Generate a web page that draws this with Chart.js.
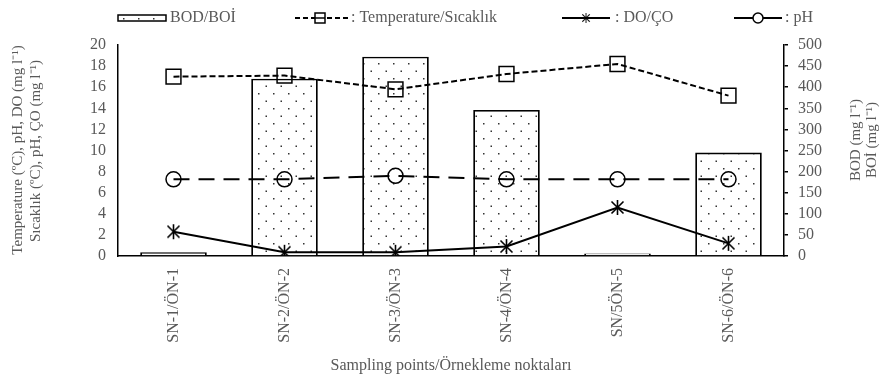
<!DOCTYPE html>
<html>
<head>
<meta charset="utf-8">
<script src="https://cdn.jsdelivr.net/npm/chart.js@4.4.1/dist/chart.umd.min.js"></script>
<style>
  html, body { margin: 0; padding: 0; background: #fff; }
  #wrap { width: 883px; height: 375px; }
</style>
</head>
<body>
<div id="wrap"><canvas id="chart"></canvas></div>
<script>
// values
var samplingPoints = ['SN-1/ÖN-1', 'SN-2/ÖN-2', 'SN-3/ÖN-3', 'SN-4/ÖN-4', 'SN/5ÖN-5', 'SN-6/ÖN-6'];
var bodValues = [9, 420, 472, 346, 6, 245];            // mg l-1, right axis
var temperatureValues = [17.0, 17.1, 15.8, 17.25, 18.2, 15.2];
var phValues = [7.27, 7.27, 7.6, 7.27, 7.27, 7.27];
var doValues = [2.3, 0.35, 0.35, 0.9, 4.6, 1.2];

var FONT = "'Liberation Serif', 'Times New Roman', serif";
var GREY = '#595959';

function dotPattern() {
    var c = document.createElement('canvas');
    c.width = 15; c.height = 15;
    var g = c.getContext('2d');
    g.fillStyle = '#fff';
    g.fillRect(0, 0, 15, 15);
    g.fillStyle = '#333';
    g.fillRect(3, 3, 1.5, 1.5);
    g.fillRect(10.5, 10.5, 1.5, 1.5);
    return g.createPattern(c, 'repeat');
}

function asterisk(size) {
    var c = document.createElement('canvas');
    c.width = size; c.height = size;
    var g = c.getContext('2d');
    var m = size / 2, r = size / 2 - 1;
    g.strokeStyle = '#000';
    g.lineWidth = 1.6;
    g.beginPath();
    g.moveTo(m, m - r); g.lineTo(m, m + r);
    g.moveTo(m - r * 0.8, m - r * 0.8); g.lineTo(m + r * 0.8, m + r * 0.8);
    g.moveTo(m + r * 0.8, m - r * 0.8); g.lineTo(m - r * 0.8, m + r * 0.8);
    g.stroke();
    return c;
}

var dots = dotPattern();
var star = asterisk(17);

// legend + rotated axis titles drawn by hand
var extras = {
    id: 'extras',
    afterDraw: function(chart) {
        var ctx = chart.ctx;
        ctx.save();
        ctx.font = '16px ' + FONT;
        ctx.fillStyle = GREY;
        ctx.textBaseline = 'middle';

        var ly = 18;
        // BOD bar swatch
        ctx.fillStyle = dots;
        ctx.fillRect(118, 15, 48, 6);
        ctx.strokeStyle = '#000';
        ctx.lineWidth = 1.5;
        ctx.strokeRect(118, 15, 48, 6);
        ctx.fillStyle = GREY;
        ctx.fillText('BOD/BOİ', 170, ly);

        // temperature swatch
        ctx.strokeStyle = '#000';
        ctx.lineWidth = 2;
        ctx.setLineDash([5, 3]);
        ctx.beginPath(); ctx.moveTo(295, ly); ctx.lineTo(348, ly); ctx.stroke();
        ctx.setLineDash([]);
        ctx.lineWidth = 1.5;
        ctx.fillStyle = '#fff';
        ctx.fillRect(315, ly - 5, 10, 10);
        ctx.strokeRect(315, ly - 5, 10, 10);
        ctx.beginPath(); ctx.moveTo(315, ly); ctx.lineTo(325, ly); ctx.stroke();
        ctx.fillStyle = GREY;
        ctx.fillText(': Temperature/Sıcaklık', 351, ly);

        // DO swatch
        ctx.lineWidth = 2;
        ctx.beginPath(); ctx.moveTo(562, ly); ctx.lineTo(610, ly); ctx.stroke();
        ctx.drawImage(star, 586 - 5.5, ly - 5.5, 11, 11);
        ctx.fillText(': DO/ÇO', 615, ly);

        // pH swatch
        ctx.beginPath(); ctx.moveTo(734, ly); ctx.lineTo(782, ly); ctx.stroke();
        ctx.lineWidth = 1.5;
        ctx.fillStyle = '#fff';
        ctx.beginPath(); ctx.arc(758, ly, 5, 0, Math.PI * 2); ctx.fill(); ctx.stroke();
        ctx.fillStyle = GREY;
        ctx.fillText(': pH', 785, ly);

        // axis titles, each line reading upwards
        ctx.textAlign = 'center';
        ctx.font = '15px ' + FONT;
        var titles = [
            ['Temperature (ºC), pH, DO (mg l⁻¹)', 18, 150],
            ['Sıcaklık (ºC), pH, ÇO (mg l⁻¹)', 36, 151],
            ['BOD (mg l⁻¹)', 856, 140],
            ['BOİ (mg l⁻¹)', 872, 140]
        ];
        titles.forEach(function(t) {
            ctx.save();
            ctx.translate(t[1], t[2]);
            ctx.rotate(-Math.PI / 2);
            ctx.fillText(t[0], 0, 0);
            ctx.restore();
        });

        ctx.restore();
    }
};

new Chart(document.getElementById('chart').getContext('2d'), {
    data: {
        labels: samplingPoints,
        datasets: [{
            type: 'line',
            label: 'Temperature/Sıcaklık',
            data: temperatureValues,
            yAxisID: 'y',
            borderColor: '#000',
            borderWidth: 2,
            borderDash: [6, 3],
            tension: 0,
            pointStyle: 'rect',
            pointRadius: 10.5,
            pointBorderWidth: 1.5,
            pointBorderColor: '#000',
            pointBackgroundColor: 'rgba(0,0,0,0)',
            order: 1
        }, {
            type: 'line',
            label: 'DO/ÇO',
            data: doValues,
            yAxisID: 'y',
            borderColor: '#000',
            borderWidth: 2,
            tension: 0,
            pointStyle: star,
            order: 2
        }, {
            type: 'line',
            label: 'pH',
            data: phValues,
            yAxisID: 'y',
            borderColor: '#000',
            borderWidth: 2,
            borderDash: [16, 9],
            tension: 0,
            pointStyle: 'circle',
            pointRadius: 7.5,
            pointBorderWidth: 1.5,
            pointBorderColor: '#000',
            pointBackgroundColor: 'rgba(0,0,0,0)',
            order: 3
        }, {
            type: 'bar',
            label: 'BOD/BOİ',
            data: bodValues,
            yAxisID: 'y1',
            backgroundColor: dots,
            borderColor: '#000',
            borderWidth: 1.8,
            barPercentage: 0.6,
            categoryPercentage: 1,
            order: 10
        }]
    },
    options: {
        responsive: true,
        maintainAspectRatio: false,
        animation: false,
        layout: { padding: { top: 45, left: 0, right: 0, bottom: 0 } },
        plugins: {
            legend: { display: false },
            tooltip: { enabled: false }
        },
        scales: {
            x: {
                offset: true,
                grid: { display: false },
                border: { color: '#000', width: 1.5 },
                ticks: {
                    color: GREY,
                    font: { family: FONT, size: 16 },
                    minRotation: 90,
                    maxRotation: 90,
                    autoSkip: false,
                    padding: 4
                },
                title: {
                    display: true,
                    text: 'Sampling points/Örnekleme noktaları',
                    color: GREY,
                    font: { family: FONT, size: 16 },
                    padding: { top: 4, bottom: 0 }
                },
                afterFit: function(scale) { scale.height = 119; }
            },
            y: {
                position: 'left',
                min: 0,
                max: 20,
                grid: { display: false, drawTicks: false },
                border: { color: '#000', width: 1.5 },
                ticks: {
                    stepSize: 2,
                    autoSkip: false,
                    color: GREY,
                    font: { family: FONT, size: 16 },
                    padding: 12
                },
                afterFit: function(scale) { scale.width = 118; }
            },
            y1: {
                position: 'right',
                min: 0,
                max: 500,
                grid: { drawOnChartArea: false, color: '#000', lineWidth: 1.5, tickLength: 4 },
                border: { color: '#000', width: 1.5 },
                ticks: {
                    stepSize: 50,
                    autoSkip: false,
                    color: GREY,
                    font: { family: FONT, size: 16 },
                    padding: 10
                },
                afterFit: function(scale) { scale.width = 99; }
            }
        }
    },
    plugins: [extras]
});
</script>
</body>
</html>
